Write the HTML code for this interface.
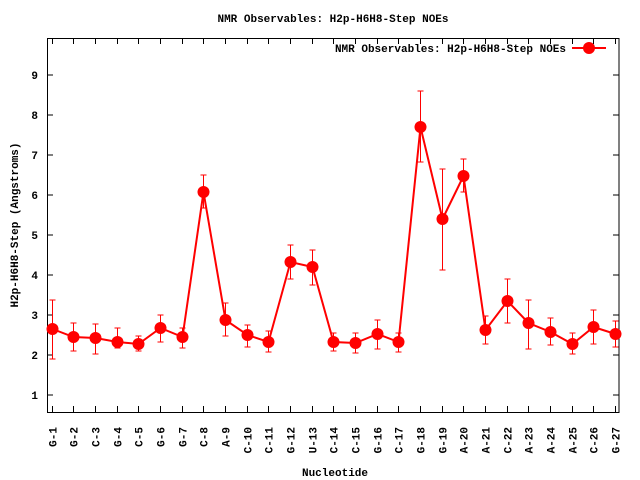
<!DOCTYPE html>
<html><head><meta charset="utf-8"><style>
html,body{margin:0;padding:0;background:#fff;}
svg{display:block;}
text{font-family:"Liberation Mono",monospace;font-weight:bold;font-size:11px;fill:#000;}
</style></head><body>
<svg id="s" width="640" height="480" xmlns="http://www.w3.org/2000/svg">
<rect x="0" y="0" width="640" height="480" fill="#fff"/>
<text x="333" y="22" text-anchor="middle">NMR Observables: H2p-H6H8-Step NOEs</text>
<text x="566" y="52" text-anchor="end">NMR Observables: H2p-H6H8-Step NOEs</text>
<line x1="572" y1="48" x2="606" y2="48" stroke="#f00" stroke-width="2"/>
<circle cx="589" cy="48" r="6" fill="#f00"/>
<text x="335" y="476" text-anchor="middle">Nucleotide</text>
<text transform="translate(18,225) rotate(-90)" text-anchor="middle">H2p-H6H8-Step (Angstroms)</text>
<rect x="47.5" y="38.5" width="571.5" height="374" fill="none" stroke="#000" stroke-width="1"/>
<g id="g"></g>
</svg>
<script>
var g=document.getElementById('g'),h='';
for(var v=1;v<=9;v++){var y=435-40*v;
h+='<line x1="47.5" y1="'+y+'" x2="53" y2="'+y+'" stroke="#000"/><line x1="613" y1="'+y+'" x2="619" y2="'+y+'" stroke="#000"/>';
h+='<text x="38" y="'+(y+4)+'" text-anchor="end">'+v+'</text>';}
var L=['G-1','G-2','C-3','G-4','C-5','G-6','G-7','C-8','A-9','C-10','C-11','G-12','U-13','C-14','C-15','G-16','C-17','G-18','G-19','A-20','A-21','C-22','A-23','A-24','A-25','C-26','G-27'];
var P=[[329,300,359],[337,323,351],[338,324,354],[342,328,348],[344,336,351],[328,315,342],[337,328,348],[192,175,208],[320,303,336],[335,325,347],[342,331,352],[262,245,279],[267,250,285],[342,333,351],[343,333,353],[334,320,349],[342,333,352],[127,91,162],[219,169,270],[176,159,192],[330,316,344],[301,279,323],[323,300,349],[332,318,345],[344,333,354],[327,310,344],[334,321,347]];
var pts=[];
for(var i=0;i<27;i++){var x=51.7+i*21.67;x=Math.round(x)+0.5;
h+='<line x1="'+x+'" y1="412" x2="'+x+'" y2="406" stroke="#000"/><line x1="'+x+'" y1="38" x2="'+x+'" y2="44" stroke="#000"/>';
h+='<text transform="translate('+(x+4)+',427) rotate(-90)" text-anchor="end">'+L[i]+'</text>';
var p=P[i];pts.push(x+','+p[0]);
h+='<line x1="'+x+'" y1="'+p[1]+'" x2="'+x+'" y2="'+p[2]+'" stroke="#f00"/><line x1="'+(x-3)+'" y1="'+p[1]+'" x2="'+(x+3)+'" y2="'+p[1]+'" stroke="#f00"/><line x1="'+(x-3)+'" y1="'+p[2]+'" x2="'+(x+3)+'" y2="'+p[2]+'" stroke="#f00"/>';}
h+='<polyline points="'+pts.join(' ')+'" fill="none" stroke="#f00" stroke-width="2"/>';
for(var i=0;i<27;i++){var q=pts[i].split(',');h+='<circle cx="'+q[0]+'" cy="'+q[1]+'" r="6" fill="#f00"/>';}
g.innerHTML=h;
</script>
</body></html>
